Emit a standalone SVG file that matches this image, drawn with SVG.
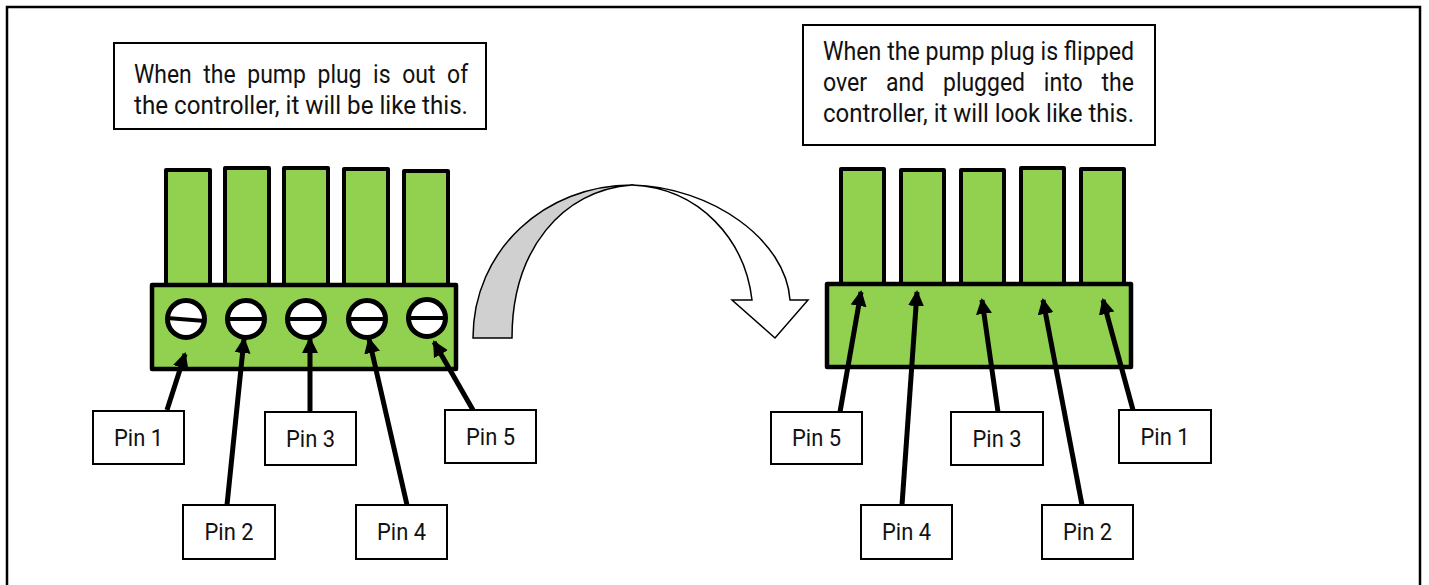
<svg xmlns="http://www.w3.org/2000/svg" width="1429" height="585" viewBox="0 0 1429 585">
<defs>
<marker id="ah" viewBox="0 0 16 16" refX="14" refY="8" markerWidth="16" markerHeight="16" markerUnits="userSpaceOnUse" orient="auto">
<path d="M0,0 L16,8 L0,16 Z" fill="#000"/>
</marker>
</defs>
<style>
.prong{fill:#92D050;stroke:#000;stroke-width:4;stroke-linejoin:round}
.body{fill:#92D050;stroke:#000;stroke-width:4.5;stroke-linejoin:round}
.hole{fill:#fff;stroke:#000;stroke-width:5}
.slot{stroke:#000;stroke-width:4}
.box{fill:#fff;stroke:#000;stroke-width:2}
.t{font-family:Roboto,"Liberation Sans",sans-serif;font-size:25px;fill:#111}
.pl{font-family:Roboto,"Liberation Sans",sans-serif;font-size:24px;fill:#111;text-anchor:middle}
.conn{stroke:#000;stroke-width:5;fill:none;marker-end:url(#ah)}
</style>
<rect x="0" y="0" width="1429" height="585" fill="#fff"/>
<rect x="7" y="7" width="1413" height="620" fill="none" stroke="#000" stroke-width="2.5"/>

<g id="caption-left">
<rect class="box" x="114" y="43" width="372" height="86"/>
<text class="t" x="134" y="83" textLength="57.7" lengthAdjust="spacingAndGlyphs">When</text>
<text class="t" x="203.3" y="83" textLength="32.4" lengthAdjust="spacingAndGlyphs">the</text>
<text class="t" x="247.3" y="83" textLength="58.6" lengthAdjust="spacingAndGlyphs">pump</text>
<text class="t" x="317.5" y="83" textLength="44" lengthAdjust="spacingAndGlyphs">plug</text>
<text class="t" x="373.1" y="83" textLength="17.5" lengthAdjust="spacingAndGlyphs">is</text>
<text class="t" x="402.2" y="83" textLength="33.3" lengthAdjust="spacingAndGlyphs">out</text>
<text class="t" x="447.1" y="83" textLength="21.1" lengthAdjust="spacingAndGlyphs">of</text>
<text class="t" x="134" y="114" textLength="334" lengthAdjust="spacingAndGlyphs">the controller, it will be like this.</text>
</g>

<g id="caption-right">
<rect class="box" x="803" y="25" width="352" height="120"/>
<text class="t" x="823" y="60" textLength="311" lengthAdjust="spacingAndGlyphs">When the pump plug is flipped</text>
<text class="t" x="823" y="91" textLength="44.2" lengthAdjust="spacingAndGlyphs">over</text>
<text class="t" x="886" y="91" textLength="38.2" lengthAdjust="spacingAndGlyphs">and</text>
<text class="t" x="943" y="91" textLength="82" lengthAdjust="spacingAndGlyphs">plugged</text>
<text class="t" x="1043.8" y="91" textLength="38.9" lengthAdjust="spacingAndGlyphs">into</text>
<text class="t" x="1101.5" y="91" textLength="32.4" lengthAdjust="spacingAndGlyphs">the</text>
<text class="t" x="823" y="122" textLength="311" lengthAdjust="spacingAndGlyphs">controller, it will look like this.</text>
</g>

<g id="plug-left">
<rect class="prong" x="166" y="170" width="44" height="116"/>
<rect class="prong" x="225" y="168" width="44" height="118"/>
<rect class="prong" x="284" y="168" width="44" height="118"/>
<rect class="prong" x="344" y="169" width="44" height="117"/>
<rect class="prong" x="404" y="171" width="44" height="115"/>
<rect class="body" x="152" y="285" width="304" height="84"/>
<circle class="hole" cx="186" cy="319" r="18.5"/>
<line class="slot" x1="167" y1="318" x2="205" y2="321"/>
<circle class="hole" cx="246" cy="319" r="18.5"/>
<line class="slot" x1="227" y1="319" x2="265" y2="319"/>
<circle class="hole" cx="306" cy="319" r="18.5"/>
<line class="slot" x1="287" y1="319" x2="325" y2="319"/>
<circle class="hole" cx="367" cy="319" r="18.5"/>
<line class="slot" x1="348" y1="319" x2="386" y2="319"/>
<circle class="hole" cx="427" cy="318" r="18.5"/>
<line class="slot" x1="408" y1="318" x2="446" y2="318"/>
</g>

<g id="plug-right">
<rect class="prong" x="841" y="169" width="43" height="115"/>
<rect class="prong" x="901" y="170" width="43" height="114"/>
<rect class="prong" x="961" y="170" width="43" height="114"/>
<rect class="prong" x="1021" y="168" width="43" height="116"/>
<rect class="prong" x="1081" y="169" width="43" height="115"/>
<rect class="body" x="827" y="284" width="304" height="83"/>
</g>

<g id="flip-arrow" stroke="#000" stroke-width="1.5" stroke-linejoin="miter">
<path d="M473,338 L512,338 C512,250 562,190 632,185 C545,185 473,250 473,338 Z" fill="#D0D0D0"/>
<path d="M632,185 C712,187 786,240 790,300 L808,300 L775,338 L732,300 L752,300 C745,240 700,188 632,185 Z" fill="#fff"/>
</g>

<g id="labels">
<g id="l-pin1"><rect class="box" x="93" y="411" width="91" height="53"/><text class="pl" x="138.5" y="446" textLength="49" lengthAdjust="spacingAndGlyphs">Pin 1</text></g>
<g id="l-pin2"><rect class="box" x="183" y="505" width="92" height="54"/><text class="pl" x="229" y="540" textLength="49" lengthAdjust="spacingAndGlyphs">Pin 2</text></g>
<g id="l-pin3"><rect class="box" x="265" y="412" width="91" height="53"/><text class="pl" x="310.5" y="447" textLength="49" lengthAdjust="spacingAndGlyphs">Pin 3</text></g>
<g id="l-pin4"><rect class="box" x="356" y="505" width="91" height="54"/><text class="pl" x="401.5" y="540" textLength="49" lengthAdjust="spacingAndGlyphs">Pin 4</text></g>
<g id="l-pin5"><rect class="box" x="445" y="410" width="91" height="53"/><text class="pl" x="490.5" y="445" textLength="49" lengthAdjust="spacingAndGlyphs">Pin 5</text></g>
<g id="r-pin5"><rect class="box" x="771" y="412" width="91" height="52"/><text class="pl" x="816.5" y="446" textLength="49" lengthAdjust="spacingAndGlyphs">Pin 5</text></g>
<g id="r-pin4"><rect class="box" x="861" y="505" width="91" height="54"/><text class="pl" x="906.5" y="540" textLength="49" lengthAdjust="spacingAndGlyphs">Pin 4</text></g>
<g id="r-pin3"><rect class="box" x="951" y="412" width="92" height="53"/><text class="pl" x="997" y="447" textLength="49" lengthAdjust="spacingAndGlyphs">Pin 3</text></g>
<g id="r-pin2"><rect class="box" x="1042" y="505" width="91" height="54"/><text class="pl" x="1087.5" y="540" textLength="49" lengthAdjust="spacingAndGlyphs">Pin 2</text></g>
<g id="r-pin1"><rect class="box" x="1119" y="410" width="92" height="53"/><text class="pl" x="1165" y="445" textLength="49" lengthAdjust="spacingAndGlyphs">Pin 1</text></g>
</g>

<g id="connectors">
<line class="conn" x1="167" y1="410" x2="185" y2="354"/>
<line class="conn" x1="227" y1="505" x2="244" y2="339"/>
<line class="conn" x1="310" y1="412" x2="310" y2="339"/>
<line class="conn" x1="407" y1="505" x2="369" y2="339"/>
<line class="conn" x1="473" y1="410" x2="434" y2="342"/>
<line class="conn" x1="840" y1="412" x2="861" y2="292"/>
<line class="conn" x1="902" y1="505" x2="917" y2="292"/>
<line class="conn" x1="998" y1="412" x2="982" y2="300"/>
<line class="conn" x1="1082" y1="505" x2="1043" y2="300"/>
<line class="conn" x1="1133" y1="410" x2="1103" y2="300"/>
</g>
</svg>
